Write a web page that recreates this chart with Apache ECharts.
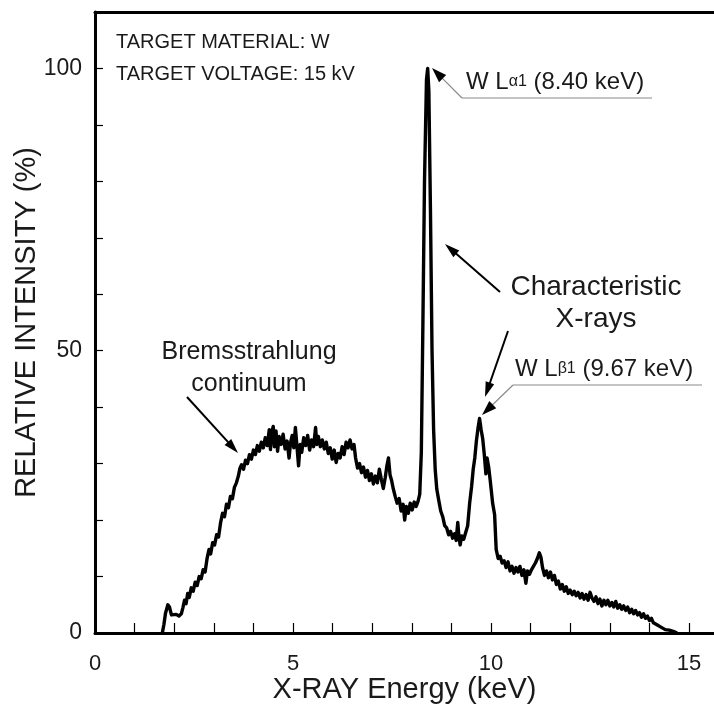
<!DOCTYPE html>
<html><head><meta charset="utf-8">
<script src="https://cdn.jsdelivr.net/npm/echarts@6/dist/echarts.min.js"></script>
<style>html,body{margin:0;padding:0;background:#fff}#c{width:714px;height:705px}</style>
</head><body><div id="c"></div>
<script>
// X-ray energy (keV) and relative intensity (%)
const energy = [1.70,1.74,1.78,1.84,1.88,1.93,1.98,2.05,2.12,2.18,2.22,2.26,2.30,2.34,2.38,2.43,2.48,2.53,2.58,2.63,2.68,2.73,2.78,2.83,2.88,2.92,2.97,3.02,3.07,3.12,3.17,3.22,3.27,3.32,3.37,3.42,3.47,3.52,3.57,3.62,3.66,3.70,3.75,3.80,3.85,3.90,3.95,4.00,4.05,4.10,4.15,4.20,4.25,4.30,4.35,4.40,4.43,4.46,4.50,4.53,4.57,4.61,4.65,4.70,4.75,4.80,4.85,4.90,4.94,4.98,5.02,5.06,5.10,5.14,5.18,5.22,5.27,5.32,5.37,5.42,5.47,5.52,5.57,5.60,5.64,5.69,5.74,5.79,5.84,5.89,5.94,5.99,6.04,6.09,6.14,6.19,6.24,6.29,6.34,6.39,6.44,6.49,6.54,6.58,6.63,6.68,6.73,6.78,6.83,6.88,6.93,6.98,7.03,7.08,7.13,7.18,7.23,7.28,7.33,7.37,7.41,7.45,7.49,7.53,7.58,7.63,7.68,7.73,7.78,7.82,7.86,7.91,7.96,8.01,8.06,8.11,8.16,8.20,8.24,8.28,8.32,8.37,8.40,8.43,8.47,8.51,8.55,8.59,8.63,8.68,8.73,8.78,8.83,8.88,8.93,8.98,9.03,9.08,9.12,9.16,9.19,9.22,9.26,9.31,9.36,9.41,9.46,9.51,9.55,9.59,9.63,9.67,9.71,9.75,9.79,9.83,9.87,9.90,9.94,9.98,10.04,10.09,10.13,10.18,10.23,10.28,10.33,10.38,10.43,10.48,10.53,10.58,10.63,10.68,10.73,10.78,10.83,10.88,10.92,10.97,11.02,11.07,11.12,11.17,11.22,11.26,11.30,11.35,11.40,11.45,11.50,11.55,11.60,11.65,11.70,11.75,11.80,11.85,11.90,11.95,12.00,12.05,12.10,12.15,12.20,12.25,12.30,12.35,12.40,12.45,12.50,12.55,12.60,12.65,12.70,12.75,12.80,12.85,12.90,12.95,13.00,13.05,13.10,13.15,13.20,13.25,13.30,13.35,13.40,13.45,13.50,13.55,13.60,13.65,13.70,13.75,13.80,13.85,13.90,13.95,14.00,14.05,14.10,14.15,14.20,14.25,14.30,14.35,14.40,14.45,14.50,14.55,14.60,14.65,14.70];
const intensity = [0,1.5,3.5,5.0,4.6,3.2,2.9,3.3,3.0,3.4,4.5,5.8,5.2,7.0,6.3,8.0,7.4,9.0,8.4,10.0,9.6,11.2,10.8,13.2,14.8,14.0,16.0,15.6,17.4,17.0,19.5,21.2,20.6,22.8,22.2,24.2,23.8,25.8,26.6,27.8,29.2,29.8,29.0,30.6,30.0,31.6,30.8,32.4,31.6,33.2,32.2,33.8,32.8,34.6,33.2,36.0,32.5,35.5,36.6,33.0,35.8,32.2,34.8,33.4,35.2,32.6,34.0,31.0,33.8,35.0,32.8,36.4,33.0,29.6,33.4,32.0,34.6,33.2,35.0,32.4,34.2,33.0,36.4,33.4,34.8,33.0,34.2,32.6,33.8,31.8,32.8,30.8,32.4,30.2,31.8,31.0,33.0,31.6,33.8,32.8,34.2,32.6,33.4,31.0,29.2,30.0,28.4,29.4,27.6,28.8,27.0,28.2,26.4,27.8,26.6,29.0,27.2,25.6,27.6,29.6,31.0,28.0,27.0,25.6,24.2,23.0,23.8,21.6,22.8,20.0,22.4,21.2,23.0,21.8,23.2,22.4,23.4,24.6,32,55,80,98,100,96,75,50,36,29,25.5,23.5,21.6,20.6,19.0,18.6,17.4,18.0,16.8,17.6,16.4,19.6,17.0,15.6,17.2,16.6,17.8,19.0,23.0,26.0,29.0,31.0,34.0,36.2,38.0,36.0,34.4,31.6,28.2,31.0,29.4,27.0,23.0,21.0,14.8,13.2,13.6,12.4,12.8,11.6,12.6,11.0,11.8,10.6,11.6,10.8,11.8,10.2,11.2,8.8,11.0,10.4,11.2,11.8,12.4,13.2,14.2,13.4,11.6,10.2,11.0,9.8,10.8,9.4,10.2,8.6,9.2,7.8,8.6,7.4,8.2,7.0,7.6,6.8,7.4,6.6,7.2,6.2,7.0,6.0,6.8,5.8,7.2,6.2,5.6,6.4,5.2,6.0,4.8,5.8,5.0,5.8,4.8,5.4,4.6,5.6,4.4,5.0,4.2,4.8,4.0,4.6,3.6,4.2,3.4,4.0,3.2,3.6,2.8,3.4,2.6,3.0,2.2,2.6,1.8,2.0,1.4,1.6,1.0,1.0,0.6,0.8,0.5,0.5,0.3,0.2,0];
const xTickLabels = [0, 5, 10, 15];
const yTickLabels = [0, 50, 100];
const xTitle = 'X-RAY Energy (keV)';
const yTitle = 'RELATIVE INTENSITY (%)';
const infoLines = ['TARGET MATERIAL: W', 'TARGET VOLTAGE: 15 kV'];

const FONT = '"Liberation Sans", Arial, Helvetica, sans-serif';
const TXT = '#1a1a1a';

function arrow(x1, y1, x2, y2, color, lw, hl, hw) {
  const dx = x2 - x1, dy = y2 - y1, L = Math.hypot(dx, dy);
  const ux = dx / L, uy = dy / L, px = -uy, py = ux;
  const bx = x2 - ux * hl, by = y2 - uy * hl;
  return [
    { type: 'line', shape: { x1: x1, y1: y1, x2: bx + ux * 2, y2: by + uy * 2 }, style: { stroke: color, lineWidth: lw } },
    { type: 'polygon', shape: { points: [[x2, y2], [bx + px * hw / 2, by + py * hw / 2], [bx - px * hw / 2, by - py * hw / 2]] }, style: { fill: '#000' } }
  ];
}
function txt(x, y, text, size, align, rich) {
  const s = { text: text, x: x, y: y, font: size + 'px ' + FONT, fill: TXT, textAlign: align || 'left', textVerticalAlign: 'middle' };
  if (rich) s.rich = rich;
  return { type: 'text', style: s };
}

const chart = echarts.init(document.getElementById('c'), null, { renderer: 'canvas' });
const axisCommon = { axisLine: { show: true, lineStyle: { color: '#000', width: 3 } }, splitLine: { show: false } };
const subRich = { s: { fontSize: 16, fontFamily: FONT, fill: TXT, color: TXT } };

const graphics = [].concat(
  [txt(116, 42, infoLines[0], 20), txt(116, 74, infoLines[1], 20)],
  // W L alpha 1
  [txt(466, 82, 'W L{s|α1} (8.40 keV)', 24, 'left', subRich),
   { type: 'line', shape: { x1: 462, y1: 98, x2: 652, y2: 98 }, style: { stroke: '#8a8a8a', lineWidth: 1.2 } }],
  arrow(462, 98, 432, 68, '#8a8a8a', 1.2, 15, 10),
  // Characteristic X-rays
  [txt(596, 287, 'Characteristic', 28, 'center'), txt(596, 319, 'X-rays', 28, 'center')],
  arrow(500, 292, 445, 244, '#000', 2, 15, 9),
  arrow(508, 331, 485, 397, '#000', 2, 15, 9),
  // W L beta 1
  [txt(515, 369, 'W L{s|β1} (9.67 keV)', 24, 'left', subRich),
   { type: 'line', shape: { x1: 513, y1: 385, x2: 702, y2: 385 }, style: { stroke: '#8a8a8a', lineWidth: 1.2 } }],
  arrow(513, 385, 482, 415, '#8a8a8a', 1.2, 15, 10),
  // Bremsstrahlung
  [txt(249, 352, 'Bremsstrahlung', 25, 'center'), txt(249, 384, 'continuum', 25, 'center')],
  arrow(187, 397, 238, 453, '#000', 2, 15, 9)
);

chart.setOption({
  animation: false,
  backgroundColor: '#fff',
  grid: { left: 95, right: 0, top: 12, bottom: 72, containLabel: false, outerBoundsMode: 'none' },
  xAxis: [
    Object.assign({}, axisCommon, {
      type: 'value', min: 0, max: 15.63, interval: 1,
      axisTick: { show: true, inside: true, length: 10, lineStyle: { color: '#000', width: 1.2 } },
      axisLabel: { margin: 20, fontSize: 22, color: TXT, fontFamily: FONT, showMaxLabel: false,
        formatter: v => xTickLabels.indexOf(v) >= 0 ? String(v) : '' },
      name: xTitle, nameLocation: 'middle', nameGap: 42, nameMoveOverlap: false,
      nameTextStyle: { fontSize: 29, color: TXT, fontFamily: FONT }
    }),
    Object.assign({}, axisCommon, {
      type: 'value', position: 'top', min: 0, max: 15.63,
      axisTick: { show: false }, axisLabel: { show: false }
    })
  ],
  yAxis: Object.assign({}, axisCommon, {
    type: 'value', min: 0, max: 110, interval: 10,
    axisTick: { show: true, inside: true, length: 8, lineStyle: { color: '#000', width: 1.2 } },
    axisLabel: { margin: 13, fontSize: 23, color: TXT, fontFamily: FONT,
      formatter: v => yTickLabels.indexOf(v) >= 0 ? String(v) : '' },
    name: yTitle, nameLocation: 'middle', nameGap: 54, nameRotate: 90, nameMoveOverlap: false,
    nameTextStyle: { fontSize: 29, color: TXT, fontFamily: FONT }
  }),
  series: [{
    type: 'line', xAxisIndex: 0, yAxisIndex: 0,
    data: energy.map((e, i) => [e, intensity[i]]),
    showSymbol: false, symbol: 'none', clip: true,
    lineStyle: { color: '#000', width: 3.4, join: 'round' }
  }],
  graphic: graphics
});
</script></body></html>
